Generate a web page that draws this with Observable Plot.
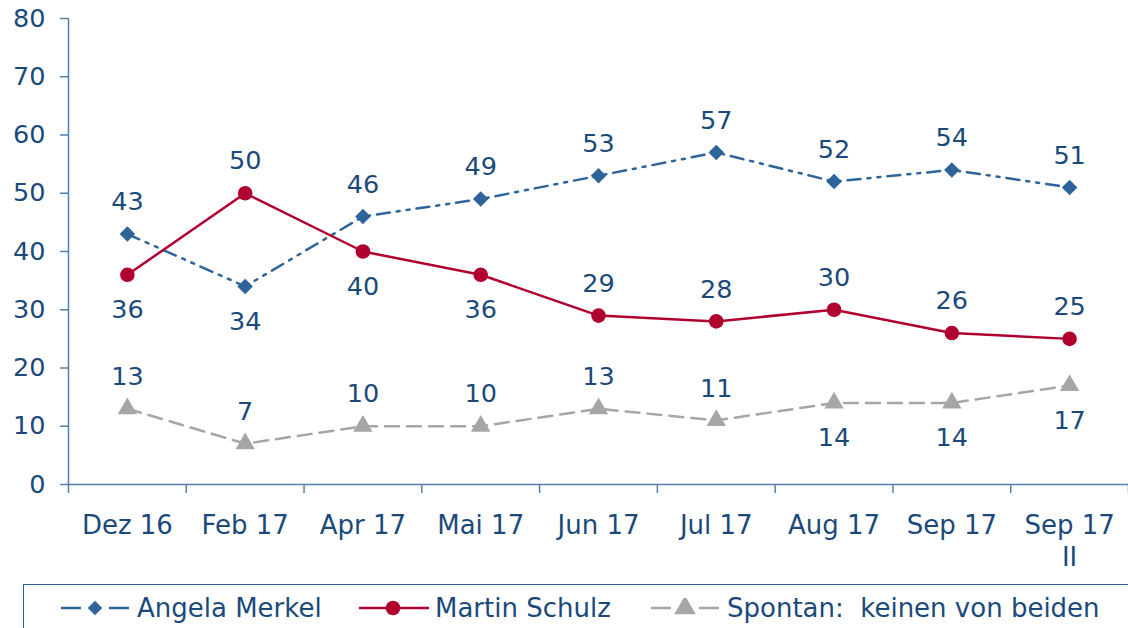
<!DOCTYPE html>
<html>
<head>
<meta charset="utf-8">
<script src="https://cdn.jsdelivr.net/npm/d3@7"></script>
<script src="https://cdn.jsdelivr.net/npm/@observablehq/plot@0.6"></script>
<style>
  html, body { margin: 0; padding: 0; background: #fff; }
  body { width: 1128px; height: 628px; position: relative; overflow: hidden; font-family: "DejaVu Sans", Verdana, sans-serif; }
  #legend { position: absolute; left: 23px; top: 584px; width: 1110px; height: 50px;
            border-top: 1.5px solid #2f5f94; border-left: 1.5px solid #2f5f94; }
  .item { position: absolute; top: 8px; height: 30px; line-height: 30px; font-size: 26px; color: #1b4a7a; white-space: pre; }
  .sym { position: absolute; top: 13px; }
</style>
</head>
<body>
<div id="chart"></div>
<div id="legend"></div>
<script>
// ---- data ----
const categories = ["Dez 16", "Feb 17", "Apr 17", "Mai 17", "Jun 17", "Jul 17", "Aug 17", "Sep 17", "Sep 17\nII"];
const merkel  = [43, 34, 46, 49, 53, 57, 52, 54, 51];
const schulz  = [36, 50, 40, 36, 29, 28, 30, 26, 25];
const spontan = [13, 7, 10, 10, 13, 11, 14, 14, 17];
const merkelLabelPos  = ["top", "bottom", "top", "top", "top", "top", "top", "top", "top"];
const schulzLabelPos  = ["bottom", "top", "bottom", "bottom", "top", "top", "top", "top", "top"];
const spontanLabelPos = ["top", "top", "top", "top", "top", "top", "bottom", "bottom", "bottom"];
const seriesNames = ["Angela Merkel", "Martin Schulz", "Spontan:  keinen von beiden"];
const yTicks = [0, 10, 20, 30, 40, 50, 60, 70, 80];

// ---- styles ----
const textColor = "#1b4a7a";
const axisColor = "#5580ad";
const cMerkel = "#2e6499";
const cSchulz = "#b0002f";
const cSpontan = "#a6a6a6";
const dashMerkel = "13,7,3,7,3,7";
const dashSpontan = "14,8";

const series = [
  {name: seriesNames[0], values: merkel,  pos: merkelLabelPos,  color: cMerkel,  symbol: "diamond2", r: 7, lr: 6.5, dash: dashMerkel},
  {name: seriesNames[1], values: schulz,  pos: schulzLabelPos,  color: cSchulz,  symbol: "circle",   r: 7.3, lr: 7.3, dash: null},
  {name: seriesNames[2], values: spontan, pos: spontanLabelPos, color: cSpontan, symbol: "triangle", r: 7.2, lr: 8, dash: dashSpontan}
];
const rows = series.flatMap(s => s.values.map((v, i) => ({series: s.name, i, v, pos: s.pos[i]})));
const boundaries = d3.range(categories.length + 1).map(k => k - 0.5);

const marks = [
  Plot.axisY({ticks: yTicks, tickSize: 8, tickPadding: 15, stroke: axisColor, fill: textColor, fontSize: 25.5, label: null, strokeWidth: 1.5}),
  Plot.ruleX([boundaries[0]], {stroke: axisColor, strokeWidth: 1.5}),
  Plot.ruleY([0], {stroke: axisColor, strokeWidth: 1.5}),
  Plot.axisX({ticks: boundaries, tickSize: 9, tickFormat: () => "", stroke: axisColor, label: null, strokeWidth: 1.5}),
  Plot.text(categories, {x: (d, i) => i, frameAnchor: "bottom", lineAnchor: "top", dy: 26, lineHeight: 1.25, fill: textColor, fontSize: 26})
];
for (const s of series) {
  const data = rows.filter(d => d.series === s.name);
  marks.push(Plot.line(data, {x: "i", y: "v", stroke: s.color, strokeWidth: 2.5, strokeDasharray: s.dash || undefined}));
}
for (const s of series) {
  const data = rows.filter(d => d.series === s.name);
  marks.push(Plot.dot(data, {x: "i", y: "v", symbol: () => s.symbol, fill: s.color, stroke: "none", r: s.r}));
  marks.push(Plot.text(data, {filter: d => d.pos === "top", x: "i", y: "v", text: d => String(d.v), dy: -32, fill: textColor, fontSize: 25.5}));
  marks.push(Plot.text(data, {filter: d => d.pos === "bottom", x: "i", y: "v", text: d => String(d.v), dy: 35, fill: textColor, fontSize: 25.5}));
}

const chart = Plot.plot({
  width: 1128,
  height: 584,
  marginTop: 18,
  marginBottom: 100,
  marginLeft: 68,
  marginRight: 0,
  x: {type: "linear", domain: [boundaries[0], boundaries[boundaries.length - 1]]},
  y: {domain: [0, 80]},
  style: {fontFamily: "'DejaVu Sans', Verdana, sans-serif", fontSize: "25px", color: textColor, background: "white", overflow: "visible"},
  marks
});
document.getElementById("chart").appendChild(chart);

// ---- legend ----
const legend = document.getElementById("legend");
const legendLayout = [{sym: 37, text: 113}, {sym: 335, text: 411}, {sym: 627, text: 703}];
series.forEach((s, k) => {
  const svg = d3.create("svg").attr("class", "sym").attr("width", 70).attr("height", 20)
    .style("left", legendLayout[k].sym + "px");
  if (s.dash) {
    svg.append("line").attr("x1", 0).attr("x2", 20).attr("y1", 10).attr("y2", 10).attr("stroke", s.color).attr("stroke-width", 2.5);
    svg.append("line").attr("x1", 48).attr("x2", 68).attr("y1", 10).attr("y2", 10).attr("stroke", s.color).attr("stroke-width", 2.5);
  } else {
    svg.append("line").attr("x1", 0).attr("x2", 70).attr("y1", 10).attr("y2", 10).attr("stroke", s.color).attr("stroke-width", 2.5);
  }
  const symType = s.symbol === "diamond2" ? d3.symbolDiamond2 : s.symbol === "triangle" ? d3.symbolTriangle : d3.symbolCircle;
  svg.append("path").attr("transform", "translate(34,10)")
    .attr("d", d3.symbol(symType, Math.PI * s.lr * s.lr)()).attr("fill", s.color);
  legend.appendChild(svg.node());
  const span = document.createElement("span");
  span.className = "item";
  span.style.left = legendLayout[k].text + "px";
  span.textContent = s.name;
  legend.appendChild(span);
});
</script>
</body>
</html>
